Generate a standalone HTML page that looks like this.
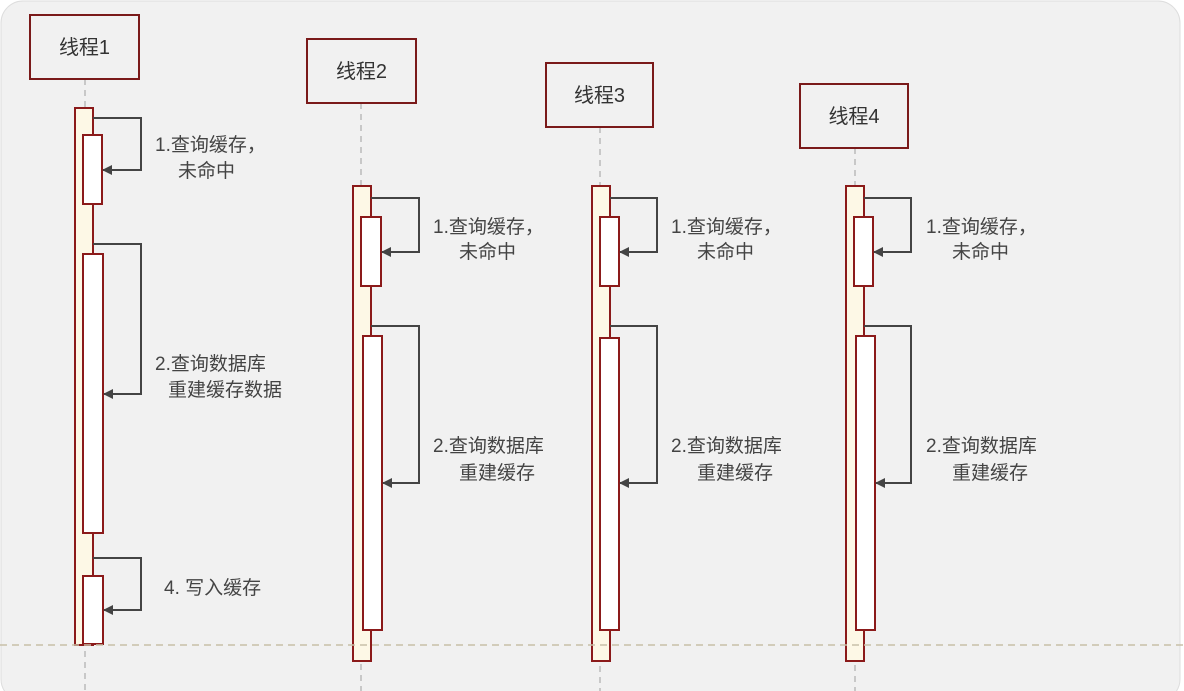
<!DOCTYPE html>
<html><head><meta charset="utf-8"><style>
html,body{margin:0;padding:0;background:#fff;}
svg{display:block;}
text{font-family:"Liberation Sans","Noto Sans CJK SC",sans-serif;font-size:19px;fill:#444;}
.hd{font-size:20px;fill:#333;}
</style></head><body>
<svg width="1184" height="691" viewBox="0 0 1184 691" xmlns="http://www.w3.org/2000/svg">
<defs><marker id="ar" markerWidth="10" markerHeight="10" refX="9" refY="5" orient="auto" markerUnits="userSpaceOnUse"><path d="M0,0 L10,5 L0,10 z" fill="#444"/></marker></defs>
<rect x="1" y="1" width="1179" height="700" rx="22" fill="#f1f1f1" stroke="#ddd"/>
<!-- lifelines -->
<g stroke="#bbb" stroke-width="1.5" stroke-dasharray="6,5">
<line x1="85" y1="79" x2="85" y2="691"/>
<line x1="361" y1="103" x2="361" y2="691"/>
<line x1="600" y1="127" x2="600" y2="691"/>
<line x1="855" y1="148" x2="855" y2="691"/>
</g>
<!-- headers -->
<g fill="#f1f1f1" stroke="#7a1a1a" stroke-width="2">
<rect x="30" y="15" width="109" height="64"/>
<rect x="307" y="39" width="109" height="64"/>
<rect x="546" y="63" width="107" height="64"/>
<rect x="800" y="84" width="108" height="64"/>
</g>
<text class="hd" x="84.5" y="54" text-anchor="middle">线程1</text>
<text class="hd" x="361.5" y="78" text-anchor="middle">线程2</text>
<text class="hd" x="599.5" y="102" text-anchor="middle">线程3</text>
<text class="hd" x="854" y="123" text-anchor="middle">线程4</text>
<!-- outer activations -->
<g fill="#fdf8e6" stroke="#8b1a1a" stroke-width="2">
<rect x="75" y="108" width="18" height="537"/>
<rect x="353" y="186" width="18" height="475"/>
<rect x="592" y="186" width="18" height="475"/>
<rect x="846" y="186" width="18" height="475"/>
</g>
<g fill="#fff" stroke="#8b1a1a" stroke-width="2">
<rect x="83" y="135" width="19" height="69"/>
<rect x="83" y="254" width="20" height="279"/>
<rect x="83" y="576" width="20" height="68"/>
<rect x="361" y="217" width="20" height="69"/>
<rect x="363" y="336" width="19" height="294"/>
<rect x="600" y="217" width="19" height="69"/>
<rect x="600" y="338" width="19" height="292"/>
<rect x="854" y="217" width="19" height="69"/>
<rect x="856" y="336" width="19" height="294"/>
</g>
<!-- loops -->
<g fill="none" stroke="#444" stroke-width="2" marker-end="url(#ar)">
<polyline points="93,118 141,118 141,170 103,170"/>
<polyline points="93,244 141,244 141,394 104,394"/>
<polyline points="93,558 141,558 141,610 104,610"/>
<polyline points="371,198 419,198 419,252 382,252"/>
<polyline points="371,326 419,326 419,483 383,483"/>
<polyline points="610,198 657,198 657,252 620,252"/>
<polyline points="610,326 657,326 657,483 620,483"/>
<polyline points="864,198 911,198 911,252 874,252"/>
<polyline points="864,326 911,326 911,483 876,483"/>
</g>
<line x1="0" y1="645" x2="1184" y2="645" stroke="#c8c0a8" stroke-width="1.5" stroke-dasharray="7,5"/>
<!-- labels -->
<text x="155" y="151">1.查询缓存，</text><text x="178" y="177">未命中</text>
<text x="155" y="370">2.查询数据库</text><text x="168" y="396">重建缓存数据</text>
<text x="164" y="594">4.  写入缓存</text>
<text x="433" y="233">1.查询缓存，</text><text x="459" y="258">未命中</text>
<text x="433" y="452">2.查询数据库</text><text x="459" y="479">重建缓存</text>
<text x="671" y="233">1.查询缓存，</text><text x="697" y="258">未命中</text>
<text x="671" y="452">2.查询数据库</text><text x="697" y="479">重建缓存</text>
<text x="926" y="233">1.查询缓存，</text><text x="952" y="258">未命中</text>
<text x="926" y="452">2.查询数据库</text><text x="952" y="479">重建缓存</text>
</svg>
</body></html>
